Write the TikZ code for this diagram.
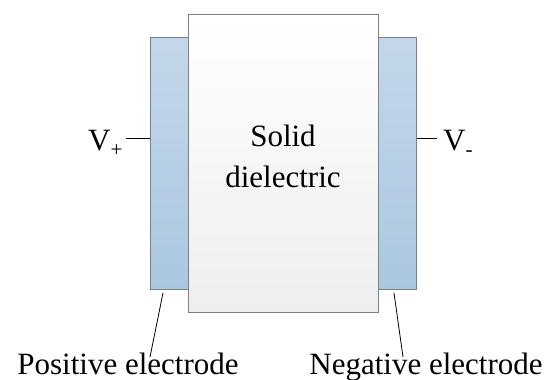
\documentclass[tikz,border=0pt]{standalone}
\usepackage{fontspec}
\setmainfont{Liberation Serif}
\newfontfamily\tnr{Liberation Serif}
\begin{document}
\begin{tikzpicture}[x=1pt,y=-1pt,
  electrode/.style={rectangle,draw={rgb,255:red,120;green,128;blue,138},line width=1pt,
    top color={rgb,255:red,196;green,215;blue,234},bottom color={rgb,255:red,170;green,199;blue,224},
    minimum width=38pt,minimum height=252pt,inner sep=0pt},
  dielec/.style={rectangle,draw={rgb,255:red,128;green,128;blue,128},line width=1pt,
    top color=white,bottom color={rgb,255:red,238;green,238;blue,238},
    minimum width=190pt,minimum height=298pt,inner sep=0pt,align=center},
  lbl/.style={font=\tnr\fontsize{31}{41}\selectfont,inner sep=0pt,anchor=base},
  lead/.style={draw=black,line width=0.8pt}]
\useasboundingbox (0,0) rectangle (547,380);
\node[electrode] (lel) at (169,163) {};
\node[electrode] (rel) at (397,163) {};
\node[dielec] (die) at (283,163) {};
\node[lbl] (s1) at (283,146) {Solid};
\node[lbl] (s2) at (283,187) {dielectric};
\node[lbl,anchor=base west] (vp) at (88,150) {V\raisebox{-6pt}{\fontsize{21}{21}\selectfont +}};
\node[lbl,anchor=base west] (vm) at (443,150) {V\raisebox{-6pt}{\fontsize{21}{21}\selectfont -}};
\coordinate (vpe) at (126,138);
\coordinate (vme) at (437,138);
\draw[lead] (vpe) -- (lel.west |- vpe);
\draw[lead] (vme) -- (rel.east |- vme);
\node[lbl] (pos) at (128,374) {Positive electrode};
\node[lbl] (neg) at (426,374) {Negative electrode};
\coordinate (pt1) at (163,293);
\coordinate (pb1) at (150,357);
\coordinate (nt1) at (394,293);
\coordinate (nb1) at (403,357);
\draw[lead] (pt1) -- (pb1);
\draw[lead] (nt1) -- (nb1);
\end{tikzpicture}
\end{document}
